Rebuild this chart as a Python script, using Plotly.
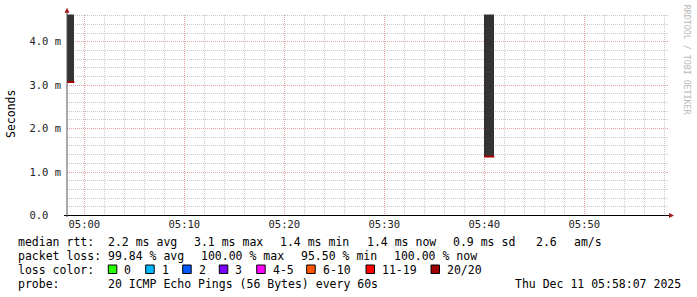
import plotly.graph_objects as go
from datetime import datetime, timedelta

# ---------------- data ----------------
step_seconds = 60
sample_times = ["2025-12-11 04:58:00", "2025-12-11 05:40:00"]
median_ms = [3.07, 1.36]
smoke_top_ms = [4.70, 4.70]

y_tick_values = [0, 1, 2, 3, 4]
y_tick_labels = ["0.0\u00a0\u00a0", "1.0 m", "2.0 m", "3.0 m", "4.0 m"]

x_range = ["2025-12-11 04:58:16", "2025-12-11 05:58:22"]
y_range = [0, 4.626]

loss_labels = ["0", "1", "2", "3", "4-5", "6-10", "11-19", "20/20"]
loss_colors = ["#26ff00", "#00b8ff", "#0059ff", "#7e00ff",
               "#ff00ff", "#ff5500", "#ff0000", "#a10000"]

rtt_row = [("median rtt:", 16), ("2.2 ms avg", 106), ("3.1 ms max", 192),
           ("1.4 ms min", 278), ("1.4 ms now", 365), ("0.9 ms sd", 450.5),
           ("2.6", 534), ("am/s", 571.5)]
loss_row = [("packet loss:", 16), ("99.84 % avg", 106), ("100.00 % max", 199),
            ("95.50 % min", 299), ("100.00 % now", 392)]
probe_row = [("probe:", 16), ("20 ICMP Echo Pings (56 Bytes) every 60s", 106),
             ("Thu Dec 11 05:58:07 2025", 512.5)]
loss_box_x = [108.3, 145.7, 182.7, 219.3, 256.7, 306.7, 366, 431]

# ---------------- helpers ----------------
W, H = 697, 297
def px(x):
    return x / W
def py(y):
    return 1 - y / H

MONO = "DejaVu Sans Mono"
SMOKE = "#333333"
MEDIAN = "#a80000"
MINOR = "#c8c8c8"
MAJOR = "#e6a0a0"

fig = go.Figure()

# smoke bars
fig.add_trace(go.Bar(
    x=sample_times,
    base=median_ms,
    y=[t - m for t, m in zip(smoke_top_ms, median_ms)],
    width=[step_seconds * 1000] * len(sample_times),
    offset=0,
    marker=dict(color=SMOKE, line=dict(width=0)),
    showlegend=False, hoverinfo="skip",
))

# median lines
mx, my = [], []
for t, m in zip(sample_times, median_ms):
    t0 = datetime.strptime(t, "%Y-%m-%d %H:%M:%S")
    t1 = t0 + timedelta(seconds=step_seconds)
    mx += [t0.strftime("%Y-%m-%d %H:%M:%S"), t1.strftime("%Y-%m-%d %H:%M:%S"), None]
    my += [m, m, None]
fig.add_trace(go.Scatter(x=mx, y=my, mode="lines",
                         line=dict(color=MEDIAN, width=2),
                         showlegend=False, hoverinfo="skip"))

plot_left, plot_right, plot_top, plot_bottom = 67, 668, 14.5, 215.5

fig.update_layout(
    template="none",
    width=W, height=H, autosize=False,
    margin=dict(l=0, r=0, t=0, b=0, pad=0),
    paper_bgcolor="white", plot_bgcolor="white",
    bargap=0,
    xaxis=dict(
        type="date", range=x_range, automargin=False,
        domain=[px(plot_left), px(plot_right)],
        tick0="2025-12-11 05:00:00", dtick=600000, tickformat="%H:%M",
        showgrid=True, gridcolor=MAJOR, griddash="1px,1px", gridwidth=1,
        minor=dict(dtick=120000, tick0="2025-12-11 05:00:00", showgrid=True,
                   gridcolor=MINOR, griddash="1px,1px", gridwidth=1),
        showline=False, zeroline=False, ticks="",
        tickfont=dict(family=MONO, size=10.5, color="#222"),
        ticklabelstandoff=1,
        fixedrange=True,
    ),
    yaxis=dict(
        range=y_range, automargin=False,
        domain=[py(plot_bottom), py(plot_top)],
        tickvals=y_tick_values, ticktext=y_tick_labels,
        showgrid=True, gridcolor=MAJOR, griddash="1px,1px", gridwidth=1,
        minor=dict(dtick=0.2, tick0=0, showgrid=True,
                   gridcolor=MINOR, griddash="1px,1px", gridwidth=1),
        showline=False, zeroline=False, ticks="",
        tickfont=dict(family=MONO, size=10.5, color="#222"),
        ticklabelstandoff=5,
        fixedrange=True,
    ),
)

shapes = []
# axes
shapes.append(dict(type="line", xref="paper", yref="paper",
                   x0=px(64), x1=px(670), y0=py(215.5), y1=py(215.5),
                   line=dict(color="black", width=1), layer="above"))
shapes.append(dict(type="line", xref="paper", yref="paper",
                   x0=px(67), x1=px(67), y0=py(217), y1=py(12),
                   line=dict(color="#555", width=1), layer="above"))
# arrows
shapes.append(dict(type="path", xref="paper", yref="paper",
                   path=f"M {px(64.5)} {py(12.8)} L {px(67)} {py(7.8)} L {px(69.5)} {py(12.8)} Z",
                   fillcolor="#a01818", line=dict(width=0), layer="above"))
shapes.append(dict(type="path", xref="paper", yref="paper",
                   path=f"M {px(669)} {py(213)} L {px(674)} {py(215.5)} L {px(669)} {py(218)} Z",
                   fillcolor="#a01818", line=dict(width=0), layer="above"))
# loss colour boxes
for bx, col in zip(loss_box_x, loss_colors):
    shapes.append(dict(type="rect", xref="paper", yref="paper",
                       x0=px(bx), x1=px(bx + 8.5), y0=py(273.5), y1=py(265),
                       fillcolor=col, line=dict(color="black", width=1)))
fig.update_layout(shapes=shapes)

ann = []
def text(s, x, y, size=11.5, color="black", angle=0, xanchor="left"):
    ann.append(dict(text=s, x=px(x), y=py(y), xref="paper", yref="paper",
                    xanchor=xanchor, yanchor="middle", showarrow=False,
                    textangle=angle,
                    font=dict(family=MONO, size=size, color=color)))

row_y = [241.5, 255.5, 269.5, 283.5]
for s, x in rtt_row:
    text(s, x, row_y[0])
for s, x in loss_row:
    text(s, x, row_y[1])
text("loss color:", 16, row_y[2])
for bx, lab in zip(loss_box_x, loss_labels):
    text(lab, bx + 14, row_y[2])
for s, x in probe_row:
    text(s, x, row_y[3])

text("Seconds", 11, 114, angle=-90, xanchor="center")
text("RRDTOOL / TOBI OETIKER", 687.3, 60, size=8.3, color="#b8b8b8",
     angle=90, xanchor="center")
fig.update_layout(annotations=ann)

fig.write_html("out.html")
